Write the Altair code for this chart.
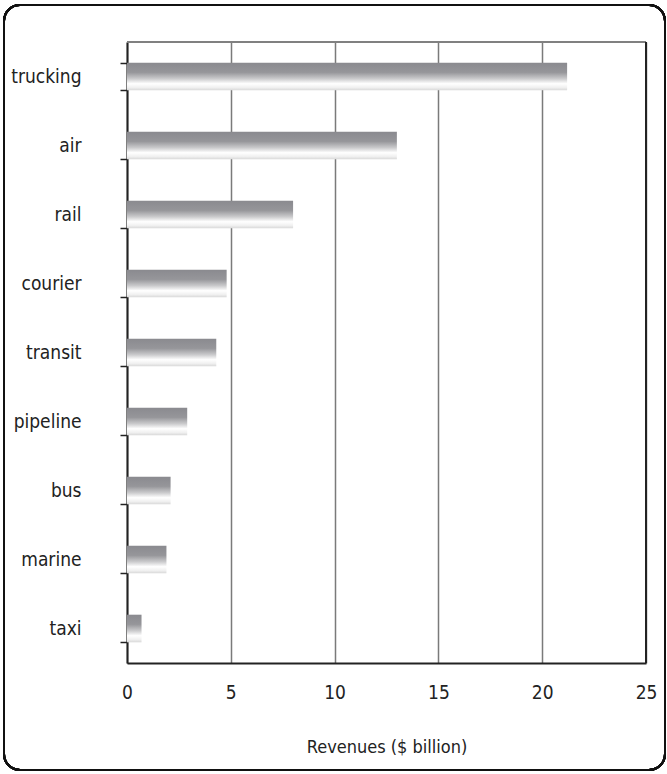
import altair as alt
import pandas as pd

# Transportation industry revenues, $ billion
modes = ["trucking", "air", "rail", "courier", "transit", "pipeline", "bus", "marine", "taxi"]
revenues = [21.2, 13.0, 8.0, 4.8, 4.3, 2.9, 2.1, 1.9, 0.7]
x_ticks = [0, 5, 10, 15, 20, 25]

df = pd.DataFrame({"mode": modes, "revenue": revenues})

FONT = "DejaVu Sans Condensed, Roboto, sans-serif"
FS = 19
W, H = 519, 621
PAD = {"left": 127, "top": 42, "right": 21, "bottom": 111}

bar_fill = alt.Gradient(
    gradient="linear",
    x1=0, x2=0, y1=0, y2=1,
    stops=[
        alt.GradientStop(offset=0.0, color="#8a8a8f"),
        alt.GradientStop(offset=0.35, color="#96969a"),
        alt.GradientStop(offset=0.58, color="#cacacc"),
        alt.GradientStop(offset=0.76, color="#ffffff"),
        alt.GradientStop(offset=0.9, color="#f0f0f0"),
        alt.GradientStop(offset=1.0, color="#d8d8d8"),
    ],
)

x_scale = alt.Scale(domain=[0, 25], nice=False)

bars = alt.Chart(df).mark_bar(fill=bar_fill, stroke=None).encode(
    x=alt.X(
        "revenue:Q",
        scale=x_scale,
        axis=alt.Axis(
            values=x_ticks,
            title="Revenues ($ billion)",
            titleFont=FONT,
            titleFontSize=18,
            titleFontWeight="normal",
            titleColor="#222",
            titlePadding=36,
            labelFont=FONT,
            labelFontSize=FS,
            labelColor="#222",
            labelPadding=20,
            labelFlush=False,
            ticks=False,
            domainColor="#222",
            domainWidth=2,
            grid=True,
            gridColor="#7a7a7a",
            gridWidth=1.5,
        ),
    ),
    y=alt.Y(
        "mode:N",
        sort=modes,
        title=None,
        scale=alt.Scale(paddingInner=0.6, paddingOuter=0.3),
        axis=alt.Axis(
            labelFont=FONT,
            labelFontSize=FS,
            labelColor="#222",
            labelPadding=39,
            tickBand="extent",
            tickSize=7,
            tickColor="#222",
            tickWidth=1.5,
            domainColor="#222",
            domainWidth=2,
            grid=False,
        ),
    ),
)

# Dark right edge of the plot area at the domain maximum
right_edge = alt.Chart(df).mark_rule(color="#222", strokeWidth=2).encode(
    x=alt.datum(25, scale=x_scale)
)

# Gray top edge of the plot area
top_edge = alt.Chart(df).mark_rule(color="#808080", strokeWidth=1.5).encode(
    x=alt.value(0), x2=alt.value(W), y=alt.value(0)
)

# Rounded frame around the whole figure
frame = alt.Chart(df).mark_rect(
    fill=None, stroke="#111", strokeWidth=2, cornerRadius=16, clip=False
).encode(
    x=alt.value(-123),
    x2=alt.value(538),
    y=alt.value(-37),
    y2=alt.value(728),
)

chart = (
    alt.layer(frame, bars, top_edge, right_edge)
    .properties(
        width=W,
        height=H,
        padding=PAD,
        autosize=alt.AutoSizeParams(type="none"),
    )
    .configure_view(stroke=None)
    .configure(background="white")
)

chart.save("out.html", embed_options={"renderer": "svg", "actions": False})
